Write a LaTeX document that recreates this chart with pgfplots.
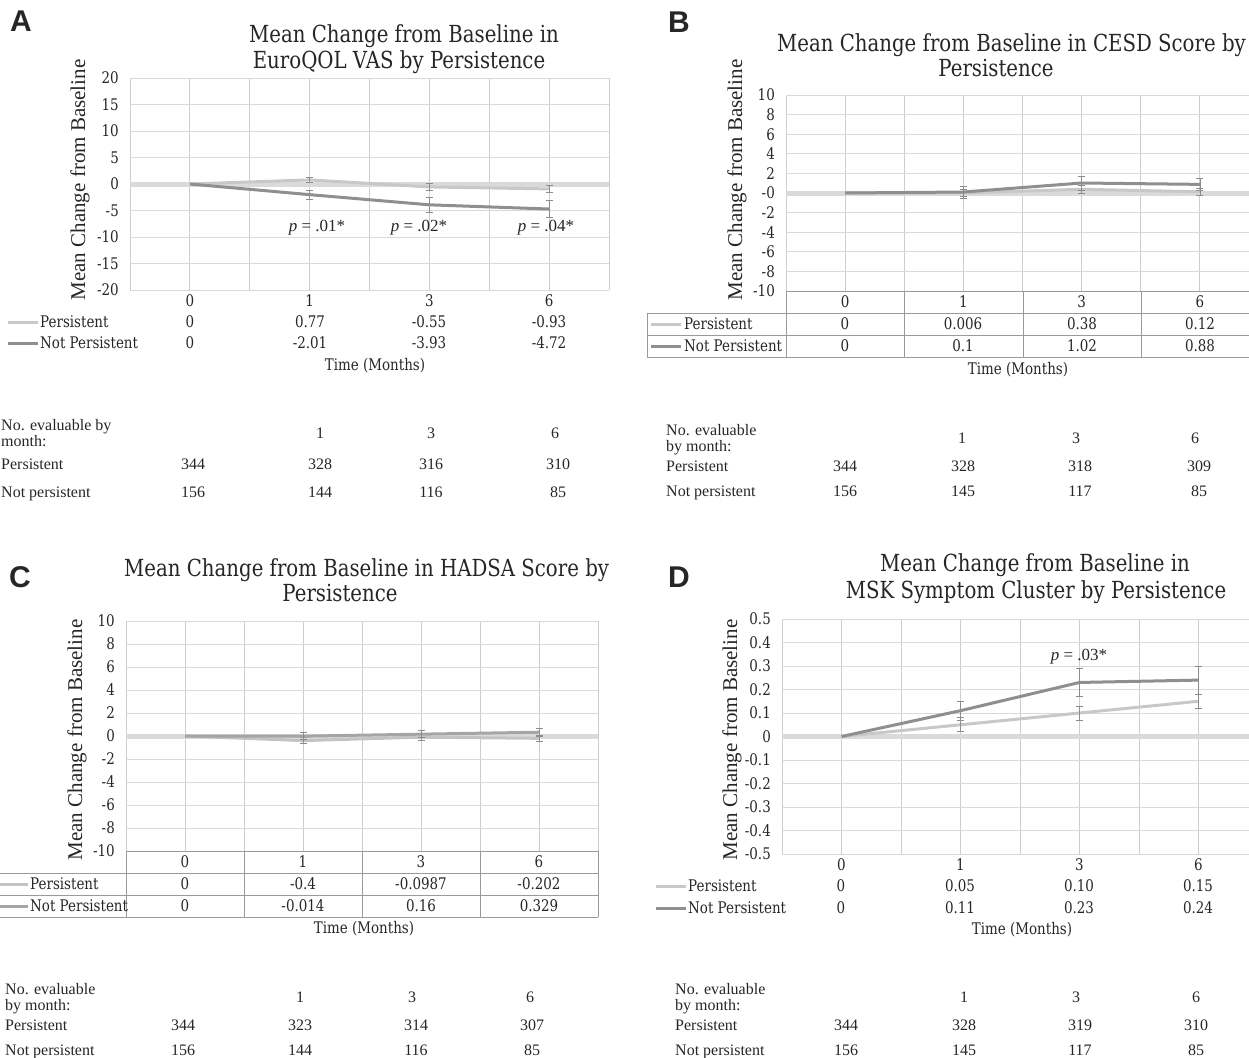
\documentclass[border=0pt]{standalone}
\usepackage{fontspec}
\setmainfont{Liberation Serif}
\newfontfamily\dv{DejaVu Serif}[FakeStretch=0.84]
\newfontfamily\lab{Liberation Sans}
\usepackage{pgfplots}
\pgfplotsset{compat=1.18}

\definecolor{gridc}{HTML}{D9D9D9}
\definecolor{vgridc}{HTML}{CDCDCD}
\definecolor{zeroc}{HTML}{DADADA}
\definecolor{pc}{HTML}{C8C8C8}
\definecolor{npc}{HTML}{8F8F8F}
\definecolor{pcC}{HTML}{C3C3C3}
\definecolor{npcC}{HTML}{A5A5A5}
\definecolor{errc}{HTML}{8C8C8C}
\definecolor{tabc}{HTML}{9A9A9A}
\definecolor{txt}{HTML}{262626}

\newcommand\tickf{\dv\fontsize{16}{18}\selectfont}
\newcommand\ttlf{\dv\fontsize{23.5}{28}\selectfont}
\newcommand\ylabf{\fontsize{21}{24}\selectfont}
\newcommand\nf{\fontsize{16}{17}\selectfont}
\newcommand\pf{\fontsize{17}{19}\selectfont}

\pgfplotsset{
  panel/.style={
    scale only axis,
    xmin=0, xmax=4,
    xtick={0.5,1.5,2.5,3.5}, xticklabels={0,1,3,6},
    minor xtick={0,1,2,3,4},
    xmajorgrids, xminorgrids, ymajorgrids,
    major grid style={gridc, line width=0.8pt},
    minor grid style={vgridc, line width=0.8pt},
    every axis x grid/.style={vgridc},
    major tick length=0pt, minor tick length=0pt,
    axis line style={draw=none},
    tick label style={font=\tickf, text=txt},
    yticklabel style={anchor=east, inner sep=0pt, xshift=-11pt},
    xticklabel style={anchor=base, inner sep=0pt, yshift=-16pt},
    extra y ticks={0}, extra y tick labels={},
    extra y tick style={ymajorgrids=true, major grid style={zeroc, line width=5pt}},
    every axis plot/.append style={line width=3pt, mark=none},
    error bars/y dir=both, error bars/y explicit,
    error bars/error bar style={line width=0.7pt, errc},
    error bars/error mark options={rotate=90, mark size=3.5pt, line width=0.7pt, errc},
  },
}

\begin{document}
\begin{tikzpicture}
\useasboundingbox (0pt,0pt) rectangle (1249pt,-1057pt);

% ---------- A ----------
\begin{axis}[panel, at={(130pt,-290pt)}, anchor=south west, width=479pt, height=212pt,
  ymin=-20, ymax=20, ytick={-20,-15,...,20},
  yticklabels={-20,-15,-10,-5,0,5,10,15,20}]
\addplot[pc] coordinates {(0.5,0) (1.5,0.77) +- (0,0.5) (2.5,-0.55) +- (0,0.6) (3.5,-0.93) +- (0,0.65)};
\addplot[npc] coordinates {(0.5,0) (1.5,-2.01) +- (0,0.9) (2.5,-3.93) +- (0,1.35) (3.5,-4.72) +- (0,1.6)};
\end{axis}

% ---------- B ----------
\begin{axis}[panel, at={(786pt,-291pt)}, anchor=south west, width=473pt, height=196pt,
  ymin=-10, ymax=10, ytick={-10,-8,...,10},
  yticklabels={-10,-8,-6,-4,-2,-0,2,4,6,8,10}]
\addplot[pc] coordinates {(0.5,0) (1.5,0.006) +- (0,0.35) (2.5,0.38) +- (0,0.4) (3.5,0.12) +- (0,0.35)};
\addplot[npc] coordinates {(0.5,0) (1.5,0.1) +- (0,0.6) (2.5,1.02) +- (0,0.7) (3.5,0.88) +- (0,0.65)};
\end{axis}

% ---------- C ----------
\begin{axis}[panel, at={(126pt,-851pt)}, anchor=south west, width=472pt, height=230pt,
  ymin=-10, ymax=10, ytick={-10,-8,...,10},
  yticklabels={-10,-8,-6,-4,-2,0,2,4,6,8,10}]
\addplot[pcC] coordinates {(0.5,0) (1.5,-0.4) +- (0,0.25) (2.5,-0.0987) +- (0,0.25) (3.5,-0.202) +- (0,0.3)};
\addplot[npcC] coordinates {(0.5,0) (1.5,-0.014) +- (0,0.3) (2.5,0.16) +- (0,0.3) (3.5,0.329) +- (0,0.35)};
\end{axis}

% ---------- D ----------
\begin{axis}[panel, at={(782pt,-854pt)}, anchor=south west, width=476pt, height=235pt,
  ymin=-0.5, ymax=0.5, ytick={-0.5,-0.4,...,0.5},
  yticklabels={-0.5,-0.4,-0.3,-0.2,-0.1,0,0.1,0.2,0.3,0.4,0.5}]
\addplot[pc] coordinates {(0.5,0) (1.5,0.05) +- (0,0.03) (2.5,0.10) +- (0,0.03) (3.5,0.15) +- (0,0.03)};
\addplot[npc] coordinates {(0.5,0) (1.5,0.11) +- (0,0.04) (2.5,0.23) +- (0,0.06) (3.5,0.24) +- (0,0.06)};
\end{axis}

\begin{scope}[x=1pt, y=-1pt, every node/.style={text=txt, inner sep=0pt}]
% panel letters
\node[font=\lab\bfseries\fontsize{30}{30}\selectfont] at (21,21) {A};
\node[font=\lab\bfseries\fontsize{30}{30}\selectfont] at (679,22) {B};
\node[font=\lab\bfseries\fontsize{30}{30}\selectfont] at (20,577) {C};
\node[font=\lab\bfseries\fontsize{30}{30}\selectfont] at (679,577) {D};

% titles
\node[font=\ttlf] at (404,36) {Mean Change from Baseline in};
\node[font=\ttlf] at (399,62) {EuroQOL VAS by Persistence};
\node[font=\ttlf, anchor=east] at (1246,45) {Mean Change from Baseline in CESD Score by};
\node[font=\ttlf] at (996,68) {Persistence};
\node[font=\ttlf, anchor=west] at (124,570) {Mean Change from Baseline in HADSA Score by};
\node[font=\ttlf] at (340,593) {Persistence};
\node[font=\ttlf] at (1035,565) {Mean Change from Baseline in};
\node[font=\ttlf] at (1036,592) {MSK Symptom Cluster by Persistence};

% y labels
\node[font=\ylabf, rotate=90] at (80,180) {Mean Change from Baseline};
\node[font=\ylabf, rotate=90] at (737,180) {Mean Change from Baseline};
\node[font=\ylabf, rotate=90] at (77,740) {Mean Change from Baseline};
\node[font=\ylabf, rotate=90] at (732,740) {Mean Change from Baseline};

% x labels
\node[font=\tickf] at (375,366) {Time (Months)};
\node[font=\tickf] at (1018,370) {Time (Months)};
\node[font=\tickf] at (364,929) {Time (Months)};
\node[font=\tickf] at (1022,930) {Time (Months)};

% p values
\node[font=\pf] at (317,228) {\textit{p} = .01*};
\node[font=\pf] at (419,228) {\textit{p} = .02*};
\node[font=\pf] at (546,228) {\textit{p} = .04*};
\node[font=\pf] at (1079,657) {\textit{p} = .03*};

% ----- data table A -----
\draw[pc, line width=3pt] (8,322) -- (38,322);
\draw[npc, line width=3pt] (8,343) -- (38,343);
\node[font=\tickf, anchor=base west] at (40,327) {Persistent};
\node[font=\tickf, anchor=base west] at (40,348) {Not Persistent};
\foreach \x/\v in {190/0,310/0.77,429/-0.55,549/-0.93} \node[font=\tickf, anchor=base] at (\x,327) {\v};
\foreach \x/\v in {190/0,310/-2.01,429/-3.93,549/-4.72} \node[font=\tickf, anchor=base] at (\x,348) {\v};

% ----- data table B -----
\draw[tabc, line width=0.8pt] (786,291) -- (1260,291);
\draw[tabc, line width=0.8pt] (647,313) -- (1260,313);
\draw[tabc, line width=0.8pt] (647,335) -- (1260,335);
\draw[tabc, line width=0.8pt] (647,357) -- (1260,357);
\draw[tabc, line width=0.8pt] (647,313) -- (647,357);
\foreach \x in {786,904,1023,1141} \draw[tabc, line width=0.8pt] (\x,291) -- (\x,357);
\draw[pc, line width=3pt] (651,324) -- (681,324);
\draw[npc, line width=3pt] (651,346) -- (681,346);
\node[font=\tickf, anchor=base west] at (684,329) {Persistent};
\node[font=\tickf, anchor=base west] at (684,351) {Not Persistent};
\foreach \x/\v in {845/0,963/0.006,1082/0.38,1200/0.12} \node[font=\tickf, anchor=base] at (\x,329) {\v};
\foreach \x/\v in {845/0,963/0.1,1082/1.02,1200/0.88} \node[font=\tickf, anchor=base] at (\x,351) {\v};

% ----- data table C -----
\draw[tabc, line width=0.8pt] (126,851) -- (598,851);
\draw[tabc, line width=0.8pt] (-5,873) -- (598,873);
\draw[tabc, line width=0.8pt] (-5,895) -- (598,895);
\draw[tabc, line width=0.8pt] (-5,917) -- (598,917);
\foreach \x in {126,244,362,480,598} \draw[tabc, line width=0.8pt] (\x,851) -- (\x,917);
\draw[pcC, line width=3pt] (-5,884) -- (28,884);
\draw[npcC, line width=3pt] (-5,906) -- (28,906);
\node[font=\tickf, anchor=base west] at (30,889) {Persistent};
\node[font=\tickf, anchor=base west] at (30,911) {Not Persistent};
\foreach \x/\v in {185/0,303/-0.4,421/-0.0987,539/-0.202} \node[font=\tickf, anchor=base] at (\x,889) {\v};
\foreach \x/\v in {185/0,303/-0.014,421/0.16,539/0.329} \node[font=\tickf, anchor=base] at (\x,911) {\v};

% ----- data table D -----
\draw[pc, line width=3pt] (656,886) -- (686,886);
\draw[npc, line width=3pt] (656,908) -- (686,908);
\node[font=\tickf, anchor=base west] at (688,891) {Persistent};
\node[font=\tickf, anchor=base west] at (688,913) {Not Persistent};
\foreach \x/\v in {841/0,960/0.05,1079/0.10,1198/0.15} \node[font=\tickf, anchor=base] at (\x,891) {\v};
\foreach \x/\v in {841/0,960/0.11,1079/0.23,1198/0.24} \node[font=\tickf, anchor=base] at (\x,913) {\v};

% ----- number evaluable -----
\node[font=\nf, anchor=base west] at (1,430) {No. evaluable by};
\node[font=\nf, anchor=base west] at (1,446) {month:};
\node[font=\nf, anchor=base west] at (1,469) {Persistent};
\node[font=\nf, anchor=base west] at (1,497) {Not persistent};
\foreach \x/\v in {320/1,431/3,555/6} \node[font=\nf, anchor=base] at (\x,438) {\v};
\foreach \x/\v in {193/344,320/328,431/316,558/310} \node[font=\nf, anchor=base] at (\x,469) {\v};
\foreach \x/\v in {193/156,320/144,431/116,558/85} \node[font=\nf, anchor=base] at (\x,497) {\v};

\node[font=\nf, anchor=base west] at (666,435) {No. evaluable};
\node[font=\nf, anchor=base west] at (666,451) {by month:};
\node[font=\nf, anchor=base west] at (666,471) {Persistent};
\node[font=\nf, anchor=base west] at (666,496) {Not persistent};
\foreach \x/\v in {962/1,1076/3,1195/6} \node[font=\nf, anchor=base] at (\x,443) {\v};
\foreach \x/\v in {845/344,963/328,1080/318,1199/309} \node[font=\nf, anchor=base] at (\x,471) {\v};
\foreach \x/\v in {845/156,963/145,1080/117,1199/85} \node[font=\nf, anchor=base] at (\x,496) {\v};

\node[font=\nf, anchor=base west] at (5,994) {No. evaluable};
\node[font=\nf, anchor=base west] at (5,1010) {by month:};
\node[font=\nf, anchor=base west] at (5,1030) {Persistent};
\node[font=\nf, anchor=base west] at (5,1055) {Not persistent};
\foreach \x/\v in {300/1,412/3,530/6} \node[font=\nf, anchor=base] at (\x,1002) {\v};
\foreach \x/\v in {183/344,300/323,416/314,532/307} \node[font=\nf, anchor=base] at (\x,1030) {\v};
\foreach \x/\v in {183/156,300/144,416/116,532/85} \node[font=\nf, anchor=base] at (\x,1055) {\v};

\node[font=\nf, anchor=base west] at (675,994) {No. evaluable};
\node[font=\nf, anchor=base west] at (675,1010) {by month:};
\node[font=\nf, anchor=base west] at (675,1030) {Persistent};
\node[font=\nf, anchor=base west] at (675,1055) {Not persistent};
\foreach \x/\v in {964/1,1076/3,1196/6} \node[font=\nf, anchor=base] at (\x,1002) {\v};
\foreach \x/\v in {846/344,964/328,1080/319,1196/310} \node[font=\nf, anchor=base] at (\x,1030) {\v};
\foreach \x/\v in {846/156,964/145,1080/117,1196/85} \node[font=\nf, anchor=base] at (\x,1055) {\v};
\end{scope}
\end{tikzpicture}
\end{document}
